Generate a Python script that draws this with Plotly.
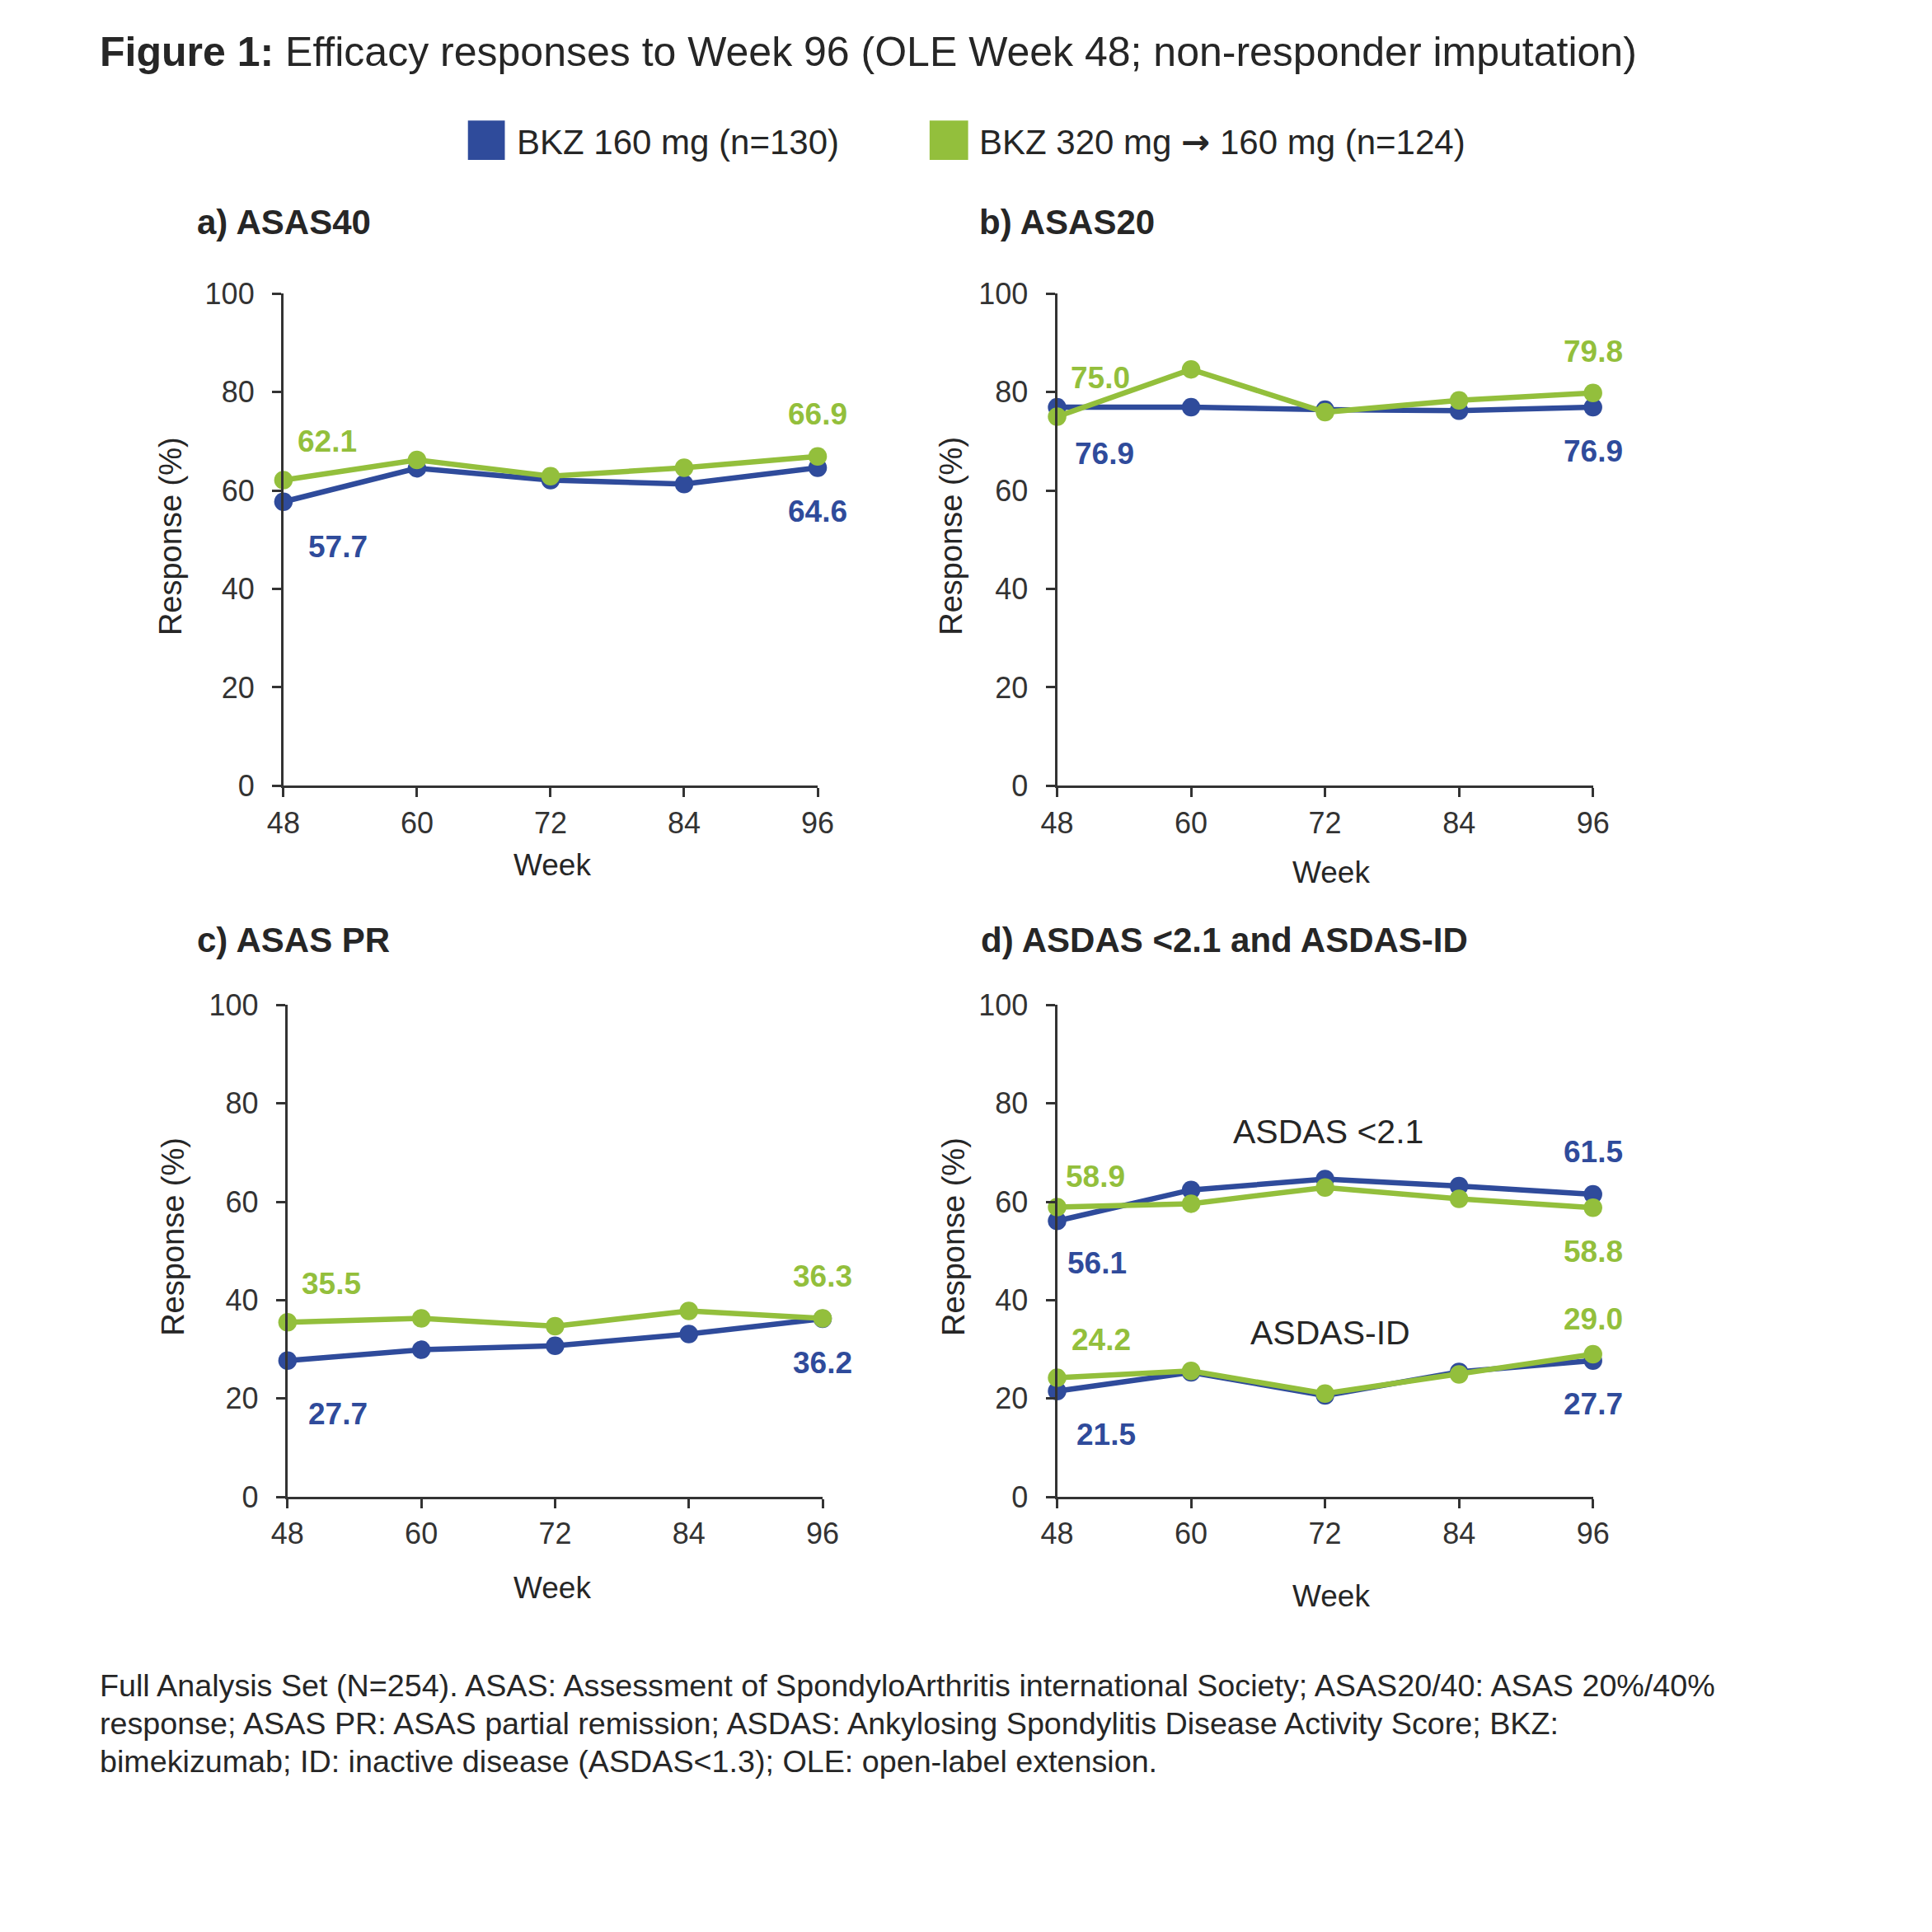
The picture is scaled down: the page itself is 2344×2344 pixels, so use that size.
import plotly.graph_objects as go

# ---------------- data ----------------
weeks = [48, 60, 72, 84, 96]
week_ticks = ["48", "60", "72", "84", "96"]
y_ticks = [0, 20, 40, 60, 80, 100]

series_names = ["BKZ 160 mg (n=130)",
                "BKZ 320 mg <span style=\"font-family:DejaVu Sans\"><b>\u2192</b></span> 160 mg (n=124)"]

asas40_bkz160 = [57.7, 64.5, 62.1, 61.3, 64.6]
asas40_bkz320 = [62.1, 66.2, 62.9, 64.6, 66.9]
asas20_bkz160 = [76.9, 76.9, 76.4, 76.2, 76.9]
asas20_bkz320 = [75.0, 84.6, 75.9, 78.3, 79.8]
asaspr_bkz160 = [27.7, 29.9, 30.7, 33.1, 36.2]
asaspr_bkz320 = [35.5, 36.3, 34.7, 37.8, 36.3]
asdas21_bkz160 = [56.1, 62.4, 64.6, 63.2, 61.5]
asdas21_bkz320 = [58.9, 59.6, 62.9, 60.6, 58.8]
asdasid_bkz160 = [21.5, 25.3, 20.6, 25.4, 27.7]
asdasid_bkz320 = [24.2, 25.6, 21.0, 24.9, 29.0]

panel_titles = ["a) ASAS40", "b) ASAS20", "c) ASAS PR", "d) ASDAS &lt;2.1 and ASDAS-ID"]

# ---------------- style ----------------
W = H = 2344
BLUE = "#2F4B9B"
GREEN = "#93BF3C"
DARK = "#262626"
AXC = "#333333"
FONT = "Liberation Sans, Arial, Helvetica, sans-serif"

# page-capture compensation (target pixel -> figure pixel)
SX, OX = 0.988, 27.0
SY, OY = 0.988, 28.0

def px(p):
    return ((p - OX) / SX) / W

def py(p):
    return 1 - ((p - OY) / SY) / H

# axis domains in target pixels: (x0, x1, ytop, ybottom)
dom = {
    1: (344.5, 996, 358, 958.5),
    2: (1288, 1941.5, 358, 958.5),
    3: (349.5, 1002, 1226, 1826),
    4: (1288, 1941.5, 1226, 1826),
}

fig = go.Figure()

def add_line(idx, vals, color):
    sfx = "" if idx == 1 else str(idx)
    fig.add_trace(go.Scatter(
        x=weeks, y=vals, mode="lines+markers",
        line=dict(color=color, width=6.5),
        marker=dict(color=color, size=22.5),
        xaxis="x" + sfx, yaxis="y" + sfx,
        cliponaxis=False, showlegend=False, hoverinfo="skip",
    ))

panel_series = {
    1: [(asas40_bkz160, BLUE), (asas40_bkz320, GREEN)],
    2: [(asas20_bkz160, BLUE), (asas20_bkz320, GREEN)],
    3: [(asaspr_bkz160, BLUE), (asaspr_bkz320, GREEN)],
    4: [(asdas21_bkz160, BLUE), (asdas21_bkz320, GREEN),
        (asdasid_bkz160, BLUE), (asdasid_bkz320, GREEN)],
}
for idx, lst in panel_series.items():
    for vals, col in sorted(lst, key=lambda t: t[1] == GREEN):
        add_line(idx, vals, col)

layout = dict(
    width=W, height=H,
    margin=dict(l=0, r=0, t=0, b=0),
    paper_bgcolor="white", plot_bgcolor="white",
    font=dict(family=FONT, color=DARK),
    showlegend=False,
)

for idx, (x0, x1, yt, yb) in dom.items():
    sfx = "" if idx == 1 else str(idx)
    layout["xaxis" + sfx] = dict(
        domain=[px(x0), px(x1)], range=[48, 96],
        tickmode="array", tickvals=weeks, ticktext=week_ticks,
        showline=True, linecolor=AXC, linewidth=3,
        ticks="outside", ticklen=11, tickwidth=3, tickcolor=AXC,
        showgrid=False, zeroline=False,
        tickfont=dict(size=36, color=AXC, family=FONT),
        anchor="y" + sfx, fixedrange=True, ticklabelstandoff=0,
    )
    layout["yaxis" + sfx] = dict(
        domain=[py(yb), py(yt)], range=[0, 100],
        tickmode="array", tickvals=y_ticks,
        showline=True, linecolor=AXC, linewidth=3,
        ticks="outside", ticklen=11, tickwidth=3, tickcolor=AXC,
        showgrid=False, zeroline=False,
        tickfont=dict(size=36, color=AXC, family=FONT),
        anchor="x" + sfx, fixedrange=True, ticklabelstandoff=14,
    )

fig.update_layout(**layout)

ann = []

def paper_text(x, y, text, size, xanchor="left", color=DARK, angle=0):
    ann.append(dict(
        x=px(x), y=py(y), xref="paper", yref="paper", text=text,
        showarrow=False, xanchor=xanchor, yanchor="middle", textangle=angle,
        font=dict(size=size, color=color, family=FONT),
    ))

# title
paper_text(118.5, 63, "<b>Figure 1:</b> Efficacy responses to Week 96 (OLE Week 48; non-responder imputation)", 50)

# legend
fig.add_shape(type="rect", xref="paper", yref="paper",
              x0=px(569.5), x1=px(614.5), y0=py(195), y1=py(147),
              fillcolor=BLUE, line=dict(width=0))
fig.add_shape(type="rect", xref="paper", yref="paper",
              x0=px(1132.5), x1=px(1179.5), y0=py(195), y1=py(147),
              fillcolor=GREEN, line=dict(width=0))
paper_text(627, 173, series_names[0], 42)
paper_text(1191, 173, series_names[1], 42)

# panel titles
paper_text(237, 271, "<b>" + panel_titles[0] + "</b>", 42)
paper_text(1191, 271, "<b>" + panel_titles[1] + "</b>", 42)
paper_text(237.5, 1146.5, "<b>" + panel_titles[2] + "</b>", 42)
paper_text(1193, 1146.5, "<b>" + panel_titles[3] + "</b>", 42)

# axis titles
for (xr, yr, xw, yw) in [(206.5, 654, 672, 1055.5), (1158, 654, 1622, 1064.5),
                         (210, 1509, 672, 1937), (1162, 1509, 1622, 1947.5)]:
    paper_text(xr, yr, "Response (%)", 38, xanchor="center", angle=-90)
    paper_text(xw, yw, "Week", 37, xanchor="center")

# group labels panel d
paper_text(1618.5, 1380.5, "ASDAS &lt;2.1", 41, xanchor="center")
paper_text(1621, 1625.5, "ASDAS-ID", 41, xanchor="center")

# footnote
foot = [
    "Full Analysis Set (N=254). ASAS: Assessment of SpondyloArthritis international Society; ASAS20/40: ASAS 20%/40%",
    "response; ASAS PR: ASAS partial remission; ASDAS: Ankylosing Spondylitis Disease Activity Score; BKZ:",
    "bimekizumab; ID: inactive disease (ASDAS&lt;1.3); OLE: open-label extension.",
]
for i, line in enumerate(foot):
    paper_text(118.5, 2056.5 + i * 46, line, 37.7)

# value labels at first and last points
def vlabel(idx, xi, vals, color, xshift, yshift):
    sfx = "" if idx == 1 else str(idx)
    ann.append(dict(
        x=weeks[xi], y=vals[xi], xref="x" + sfx, yref="y" + sfx,
        text="<b>%.1f</b>" % vals[xi], showarrow=False,
        xanchor="center", yanchor="middle",
        xshift=xshift / SX, yshift=yshift / SY,
        font=dict(size=37, color=color, family=FONT),
    ))

vlabel(1, 0, asas40_bkz320, GREEN, 52, 46)
vlabel(1, 0, asas40_bkz160, BLUE, 65, -54)
vlabel(1, 4, asas40_bkz320, GREEN, 0, 51)
vlabel(1, 4, asas40_bkz160, BLUE, 0, -52)

vlabel(2, 0, asas20_bkz320, GREEN, 52, 46)
vlabel(2, 0, asas20_bkz160, BLUE, 57, -56)
vlabel(2, 4, asas20_bkz320, GREEN, 0, 50)
vlabel(2, 4, asas20_bkz160, BLUE, 0, -53)

vlabel(3, 0, asaspr_bkz320, GREEN, 53, 46)
vlabel(3, 0, asaspr_bkz160, BLUE, 60, -64)
vlabel(3, 4, asaspr_bkz320, GREEN, 0, 50)
vlabel(3, 4, asaspr_bkz160, BLUE, 0, -53)

vlabel(4, 0, asdas21_bkz320, GREEN, 46, 37)
vlabel(4, 0, asdas21_bkz160, BLUE, 48, -51)
vlabel(4, 4, asdas21_bkz160, BLUE, 0, 51)
vlabel(4, 4, asdas21_bkz320, GREEN, 0, -53)
vlabel(4, 0, asdasid_bkz320, GREEN, 53, 46)
vlabel(4, 0, asdasid_bkz160, BLUE, 59, -52)
vlabel(4, 4, asdasid_bkz320, GREEN, 0, 42)
vlabel(4, 4, asdasid_bkz160, BLUE, 0, -52)

fig.update_layout(annotations=ann)
fig.write_html("out.html")
